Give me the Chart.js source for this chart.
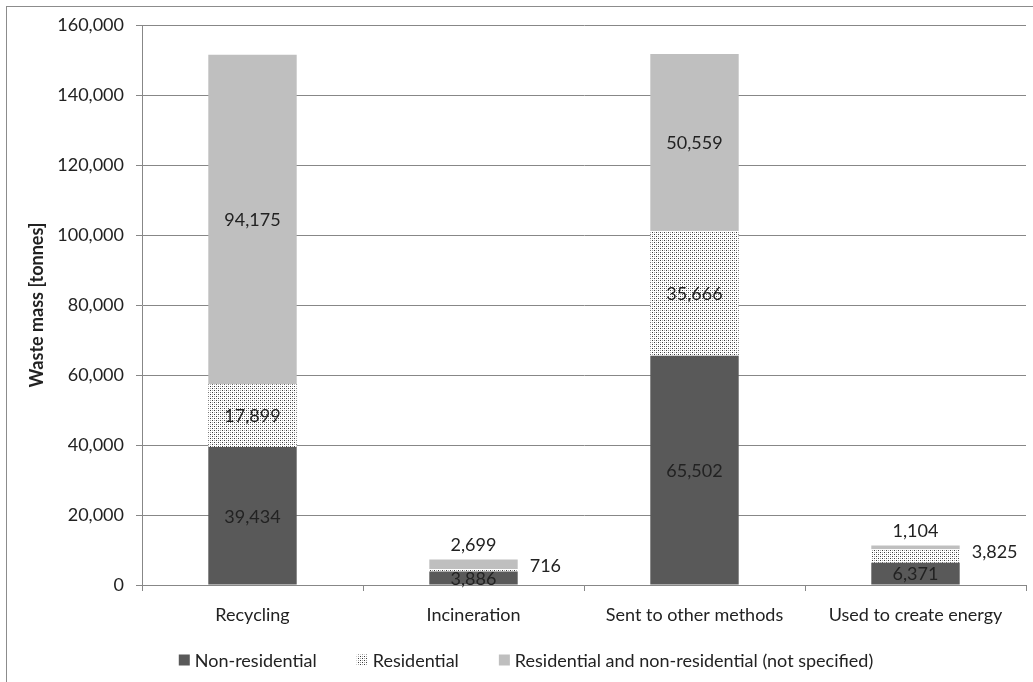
<!DOCTYPE html>
<html>
<head>
<meta charset="utf-8">
<script src="https://cdn.jsdelivr.net/npm/chart.js@4.4.1/dist/chart.umd.min.js"></script>
<style>
  html, body { margin: 0; padding: 0; background: #fff; }
  #wrap { width: 1033px; height: 682px; position: relative; }
</style>
</head>
<body>
<div id="wrap"><canvas id="c" width="1033" height="682"></canvas></div>
<script>
const categories = ['Recycling', 'Incineration', 'Sent to other methods', 'Used to create energy'];
const seriesNames = ['Non-residential', 'Residential', 'Residential and non-residential (not specified)'];
const nonResidential = [39434, 3886, 65502, 6371];
const residential = [17899, 716, 35666, 3825];
const notSpecified = [94175, 2699, 50559, 1104];
const yTicks = [0, 20000, 40000, 60000, 80000, 100000, 120000, 140000, 160000];
const yTitle = 'Waste mass [tonnes]';

const FONT = 'Lato, "Open Sans", sans-serif';
const TEXT = '#222222';
const GRID = '#878787';

function makePattern() {
  const c = document.createElement('canvas');
  c.width = 4; c.height = 4;
  const x = c.getContext('2d');
  x.fillStyle = '#ffffff'; x.fillRect(0, 0, 4, 4);
  x.fillStyle = '#3c3c3c';
  [[0, 0], [2, 2]].forEach(([a, b]) => x.fillRect(a, b, 1, 1));
  x.fillStyle = '#a8a8a8';
  [[2, 0], [0, 2]].forEach(([a, b]) => x.fillRect(a, b, 1, 1));
  return x.createPattern(c, 'repeat');
}
const dotPattern = makePattern();

const fmt = v => Number(v).toLocaleString('en-US');

const frame = {
  id: 'frame',
  beforeDraw(chart) {
    const ctx = chart.ctx;
    ctx.save();
    ctx.fillStyle = '#fff';
    ctx.fillRect(0, 0, chart.width, chart.height);
    ctx.strokeStyle = '#8c8c8c';
    ctx.lineWidth = 1;
    ctx.strokeRect(6.5, 6.5, chart.width + 20, chart.height + 20);
    ctx.restore();
  }
};

const labelsPlugin = {
  id: 'segLabels',
  afterDatasetsDraw(chart) {
    const ctx = chart.ctx;
    ctx.save();
    ctx.font = '18px ' + FONT;
    ctx.fillStyle = TEXT;
    chart.data.datasets.forEach((ds, i) => {
      const meta = chart.getDatasetMeta(i);
      meta.data.forEach((bar, j) => {
        const v = ds.data[j];
        const p = bar.getProps(['x', 'y', 'base', 'width'], true);
        const h = Math.abs(p.base - p.y);
        const cy = (p.y + p.base) / 2;
        const txt = fmt(v);
        if (i === 0 || h >= 14) {
          ctx.textAlign = 'center'; ctx.textBaseline = 'middle';
          ctx.fillText(txt, p.x, cy + 1);
        } else if (i === 2) {
          ctx.textAlign = 'center'; ctx.textBaseline = 'middle';
          ctx.fillText(txt, p.x, Math.min(p.y, p.base) - 14);
        } else {
          ctx.textAlign = 'left'; ctx.textBaseline = 'middle';
          ctx.fillText(txt, p.x + p.width / 2 + 12, cy - 4);
        }
      });
    });
    ctx.restore();
  }
};

const legendPlugin = {
  id: 'bottomLegend',
  afterDraw(chart) {
    const ctx = chart.ctx;
    ctx.save();
    ctx.font = '18px ' + FONT;
    const box = 11, gap = 5, spacing = 40;
    const items = chart.data.datasets.map(ds => ({ label: ds.label, color: ds.legendColor || ds.backgroundColor }));
    let total = 0;
    items.forEach((it, k) => { it.w = ctx.measureText(it.label).width; total += box + gap + it.w + (k ? spacing : 0); });
    let x = 526 - total / 2;
    const y = 660;
    items.forEach(it => {
      ctx.fillStyle = it.color;
      ctx.fillRect(x, y - box / 2, box, box);
      x += box + gap;
      ctx.fillStyle = TEXT;
      ctx.textAlign = 'left'; ctx.textBaseline = 'middle';
      ctx.fillText(it.label, x, y + 1);
      x += it.w + spacing;
    });
    ctx.restore();
  }
};

new Chart(document.getElementById('c'), {
  type: 'bar',
  data: {
    labels: categories,
    datasets: [
      { label: seriesNames[0], data: nonResidential, backgroundColor: '#595959', legendColor: '#595959' },
      { label: seriesNames[1], data: residential, backgroundColor: dotPattern, legendColor: dotPattern },
      { label: seriesNames[2], data: notSpecified, backgroundColor: '#bfbfbf', legendColor: '#bfbfbf' }
    ]
  },
  options: {
    responsive: false,
    animation: false,
    devicePixelRatio: 1,
    layout: { padding: { left: 0, right: 7, top: 25, bottom: 57 } },
    datasets: { bar: { categoryPercentage: 1, barPercentage: 0.4, borderWidth: 0 } },
    plugins: { legend: { display: false }, tooltip: { enabled: false } },
    scales: {
      x: {
        stacked: true,
        grid: { offset: true, drawOnChartArea: false, drawTicks: true, tickLength: 6, color: GRID },
        border: { color: GRID },
        ticks: { color: TEXT, font: { family: FONT, size: 18 }, padding: 13, maxRotation: 0, autoSkip: false },
        afterFit(s) { s.height = 40; }
      },
      y: {
        stacked: true,
        min: 0, max: 160000,
        afterBuildTicks(s) { s.ticks = yTicks.map(v => ({ value: v })); },
        grid: { color: GRID, tickLength: 6 },
        border: { color: GRID },
        ticks: { color: TEXT, font: { family: FONT, size: 18 }, padding: 12, callback: v => fmt(v) },
        title: { display: true, text: yTitle, color: TEXT, font: { family: FONT, size: 18, weight: 'bold' }, padding: { top: 26, bottom: 0 } },
        afterFit(s) { s.width = 142; }
      }
    }
  },
  plugins: [frame, labelsPlugin, legendPlugin]
});
</script>
</body>
</html>
